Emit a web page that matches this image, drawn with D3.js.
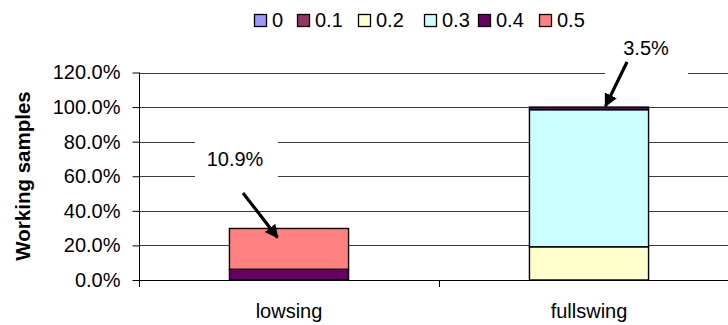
<!DOCTYPE html>
<html>
<head>
<meta charset="utf-8">
<script src="https://cdn.jsdelivr.net/npm/d3@7"></script>
<style>
  html, body { margin: 0; padding: 0; background: #fff; }
  svg { display: block; font-family: "Liberation Sans", Arial, sans-serif; }
</style>
</head>
<body>
<svg id="chart" width="728" height="325"></svg>
<script>
// Categories and stacked series (share of working samples, %)
const categories = ["lowsing", "fullswing"];
const seriesNames = ["0", "0.1", "0.2", "0.3", "0.4", "0.5"];
const seriesColors = ["#9999FF", "#993366", "#FFFFCC", "#CCFFFF", "#660066", "#FF8080"];
const values0  = [0, 0];
const values01 = [0, 0];
const values02 = [0, 19.2];
const values03 = [0, 79.3];
const values04 = [6.2, 1.5];
const values05 = [23.6, 0];
const yTicks = [0, 0.2, 0.4, 0.6, 0.8, 1.0, 1.2];
const yTitle = "Working samples";
// Callout notes: text, category, series the arrow points to
const notes = [
  { text: "10.9%", category: "lowsing", series: "0.5" },
  { text: "3.5%", category: "fullswing", series: "0.4" }
];

const seriesValues = [values0, values01, values02, values03, values04, values05];
const rows = categories.map((c, i) => {
  const r = { category: c };
  seriesNames.forEach((s, k) => { r[s] = seriesValues[k][i] / 100; });
  return r;
});
const stacked = d3.stack().keys(seriesNames)(rows);

const svg = d3.select("#chart");
const plot = { left: 139, right: 739, top: 72.5, bottom: 280 };

const x = d3.scaleBand().domain(categories).range([plot.left, plot.right]).padding(0);
const y = d3.scaleLinear().domain([0, 1.2]).range([plot.bottom, plot.top]);
const color = d3.scaleOrdinal().domain(seriesNames).range(seriesColors);
const barW = x.bandwidth() * 0.397;
const barX = c => x(c) + (x.bandwidth() - barW) / 2;

// Gridlines
svg.append("g")
  .selectAll("line")
  .data(yTicks.filter(t => t > 0))
  .join("line")
  .attr("x1", plot.left).attr("x2", plot.right)
  .attr("y1", d => Math.round(y(d)) + 0.5).attr("y2", d => Math.round(y(d)) + 0.5)
  .attr("stroke", "#3a3a3a").attr("stroke-width", 1);

// Stacked bars
svg.append("g")
  .selectAll("g")
  .data(stacked)
  .join("g")
  .attr("fill", d => color(d.key))
  .selectAll("rect")
  .data(d => d.filter(p => p[1] - p[0] > 0))
  .join("rect")
  .attr("x", d => barX(d.data.category))
  .attr("y", d => y(d[1]))
  .attr("width", barW)
  .attr("height", d => y(d[0]) - y(d[1]))
  .attr("stroke", "#000")
  .attr("stroke-width", 1.4);

// Y axis
const yAxis = d3.axisLeft(y).tickValues(yTicks).tickFormat(d3.format(".1%")).tickSize(7).tickPadding(12);
const yg = svg.append("g").attr("transform", `translate(${plot.left + 0.5},0)`).call(yAxis);
yg.select(".domain").remove();
yg.selectAll(".tick line").attr("stroke", "#000");
yg.selectAll(".tick text")
  .attr("font-size", 20).attr("fill", "#000")
  .attr("font-family", "Liberation Sans, Arial, sans-serif");
svg.append("line")
  .attr("x1", plot.left + 0.5).attr("x2", plot.left + 0.5)
  .attr("y1", plot.top).attr("y2", plot.bottom + 7)
  .attr("stroke", "#000");

// X axis with category boundary ticks
svg.append("line")
  .attr("x1", plot.left).attr("x2", plot.right)
  .attr("y1", plot.bottom + 0.5).attr("y2", plot.bottom + 0.5)
  .attr("stroke", "#000");
svg.append("g")
  .selectAll("line")
  .data(categories.slice(1))
  .join("line")
  .attr("x1", d => x(d) + 0.5).attr("x2", d => x(d) + 0.5)
  .attr("y1", plot.bottom).attr("y2", plot.bottom + 7)
  .attr("stroke", "#000");
svg.append("g")
  .selectAll("text")
  .data(categories)
  .join("text")
  .attr("x", d => x(d) + x.bandwidth() / 2)
  .attr("y", 318)
  .attr("text-anchor", "middle")
  .attr("font-size", 20)
  .text(d => d);

// Y axis title
svg.append("text")
  .attr("transform", "translate(30,176) rotate(-90)")
  .attr("text-anchor", "middle")
  .attr("font-size", 20.5)
  .attr("font-weight", "bold")
  .text(yTitle);

// Legend
const legendX = [254, 297, 358, 424, 478, 539];
const lg = svg.append("g")
  .selectAll("g")
  .data(seriesNames)
  .join("g")
  .attr("transform", (d, i) => `translate(${legendX[i]},14)`);
lg.append("rect")
  .attr("x", 0.5).attr("y", 0.5)
  .attr("width", 12).attr("height", 12)
  .attr("fill", d => color(d))
  .attr("stroke", "#000").attr("stroke-width", 1.3);
lg.append("text")
  .attr("x", 18).attr("y", 13)
  .attr("font-size", 20)
  .text(d => d);

// Callouts with arrows
const topOf = (cat, ser) => {
  const layer = stacked.find(s => s.key === ser);
  const p = layer[categories.indexOf(cat)];
  return { cx: barX(cat) + barW / 2, top: y(p[1]) };
};
const calloutLayout = [
  { box: [195, 122, 83, 73], tx: 235, ty: 166, tail: [243, 193], tipDx: -11.5, tipDy: 9 },
  { box: [605, 30, 83, 48], tx: 646, ty: 55, tail: [627, 62], tipDx: 16.5, tipDy: -1 }
];
const defs = svg.append("defs");
defs.append("marker")
  .attr("id", "head")
  .attr("viewBox", "0 0 10 10")
  .attr("refX", 9).attr("refY", 5)
  .attr("markerWidth", 4.2).attr("markerHeight", 4.2)
  .attr("markerUnits", "strokeWidth")
  .attr("orient", "auto")
  .append("path").attr("d", "M0,0 L10,5 L0,10 z").attr("fill", "#000");

notes.forEach((n, i) => {
  const L = calloutLayout[i];
  const t = topOf(n.category, n.series);
  const tip = [t.cx + L.tipDx, t.top + L.tipDy];
  svg.append("rect")
    .attr("x", L.box[0]).attr("y", L.box[1])
    .attr("width", L.box[2]).attr("height", L.box[3])
    .attr("fill", "#fff");
  svg.append("text")
    .attr("x", L.tx).attr("y", L.ty)
    .attr("text-anchor", "middle")
    .attr("font-size", 20)
    .text(n.text);
  svg.append("line")
    .attr("x1", L.tail[0]).attr("y1", L.tail[1])
    .attr("x2", tip[0]).attr("y2", tip[1])
    .attr("stroke", "#000").attr("stroke-width", 3.2)
    .attr("marker-end", "url(#head)");
});
</script>
</body>
</html>
